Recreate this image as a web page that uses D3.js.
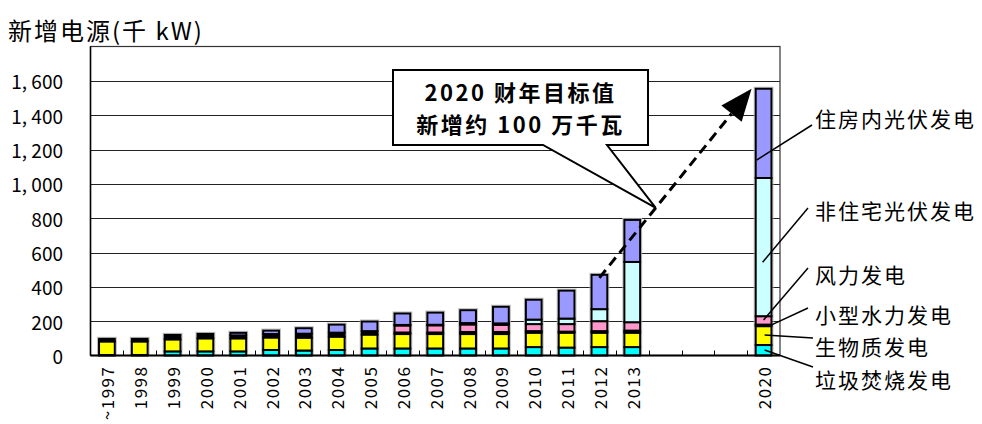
<!DOCTYPE html>
<html><head><meta charset="utf-8">
<script src="https://cdn.jsdelivr.net/npm/d3@7"></script>
<style>body{margin:0;background:#fff}</style>
</head><body>
<svg id="c" width="982" height="424"></svg>
<script>
const categories = ["~1997","1998","1999","2000","2001","2002","2003","2004","2005","2006","2007","2008","2009","2010","2011","2012","2013","","","","2020"];
const seriesNames = ["垃圾焚烧发电","生物质发电","小型水力发电","风力发电","非住宅光伏发电","住房内光伏发电"];
const seriesColors = ["#00FFFF","#FFFF00","#000000","#FF99CC","#CCFFFF","#9999FF"];
const garbage     = [3, 3, 24, 24, 24, 32, 29, 32, 41, 41, 41, 41, 41, 49, 46, 49, 49, null, null, null, 61];
const biomass     = [79, 79, 70, 76, 76, 73, 75, 78, 81, 84, 84, 84, 84, 84, 87, 84, 84, null, null, null, 110];
const smallHydro  = [15, 15, 26, 26, 17, 20, 23, 23, 20, 9, 9, 12, 12, 9, 6, 9, 12, null, null, null, 9];
const wind        = [0, 0, 0, 0, 0, 0, 0, 0, 0, 41, 42, 44, 42, 41, 44, 58, 49, null, null, null, 49];
const nonResPV    = [0, 0, 0, 0, 0, 0, 0, 0, 0, 3, 3, 8, 8, 26, 32, 70, 351, null, null, null, 805];
const resPV       = [0, 0, 0, 0, 15, 20, 32, 47, 56, 67, 71, 75, 97, 116, 163, 200, 245, null, null, null, 520];
const yTicks = [0, 200, 400, 600, 800, 1000, 1200, 1400, 1600];
const yTickLabels = ["0","200","400","600","800","1, 000","1, 200","1, 400","1, 600"];
const yMax = 1800;
const titleText = "新增电源(千 kW)";
const calloutLines = ["2020 财年目标值", "新增约 100 万千瓦"];

const series = [garbage, biomass, smallHydro, wind, nonResPV, resPV];
const svg = d3.select("#c");
const L = 90.5, R = 780, T = 46.5, B = 355.5;
const CJK = "'Noto Sans CJK SC','Noto Sans',sans-serif";

const x = d3.scaleBand().domain(d3.range(categories.length)).range([L, R]).paddingInner(0).paddingOuter(0);
const y = d3.scaleLinear().domain([0, yMax]).range([B, T]);
const bw = x.bandwidth() * 0.48;

// title
svg.append("text").attr("x", 8).attr("y", 40).attr("font-family", CJK).attr("font-size", 24)
  .attr("letter-spacing", "2px").attr("fill", "#000").text(titleText);

// gridlines
svg.append("g").selectAll("line").data(yTicks.filter(d => d > 0)).join("line")
  .attr("x1", L).attr("x2", R).attr("y1", d => Math.round(y(d)) + 0.5).attr("y2", d => Math.round(y(d)) + 0.5)
  .attr("stroke", "#222").attr("stroke-width", 1);

// plot border
svg.append("rect").attr("x", L).attr("y", T).attr("width", R - L).attr("height", B - T)
  .attr("fill", "none").attr("stroke", "#333").attr("stroke-width", 1.2);

// y labels
svg.append("g").selectAll("text").data(yTicks).join("text")
  .attr("x", 63).attr("y", d => y(d)).attr("text-anchor", "end").attr("dominant-baseline", "central")
  .attr("font-family", CJK).attr("font-size", 19).attr("fill", "#000")
  .text((d, i) => yTickLabels[i]);

// stacked data
const rows = categories.map((c, i) => {
  const o = {i: i};
  series.forEach((s, k) => o["s" + k] = s[i]);
  return o;
}).filter(r => r.s0 !== null);
const keys = series.map((s, k) => "s" + k);
const stacked = d3.stack().keys(keys)(rows);

// subtle bar shadow
svg.append("g").selectAll("rect").data(rows).join("rect")
  .attr("x", d => x(d.i) + (x.bandwidth() - bw) / 2 - 1.5)
  .attr("y", d => y(d3.sum(keys, k => d[k])) - 1.5)
  .attr("width", bw + 3)
  .attr("height", d => B - y(d3.sum(keys, k => d[k])) + 1.5)
  .attr("fill", "none").attr("stroke", "#bbb").attr("stroke-width", 1);

const gb = svg.append("g");
stacked.forEach((layer, k) => {
  gb.append("g").selectAll("rect").data(layer).join("rect")
    .attr("x", d => x(d.data.i) + (x.bandwidth() - bw) / 2)
    .attr("y", d => y(d[1]))
    .attr("width", bw)
    .attr("height", d => y(d[0]) - y(d[1]))
    .attr("fill", seriesColors[k])
    .attr("stroke", "#000").attr("stroke-width", 2);
});

// x axis line and ticks
svg.append("line").attr("x1", L).attr("x2", R).attr("y1", B).attr("y2", B).attr("stroke", "#000").attr("stroke-width", 2);
svg.append("line").attr("x1", L).attr("x2", L).attr("y1", T).attr("y2", B).attr("stroke", "#000").attr("stroke-width", 1.5);
svg.append("g").selectAll("line").data(d3.range(1, categories.length)).join("line")
  .attr("x1", i => Math.round(x(i)) + 0.5).attr("x2", i => Math.round(x(i)) + 0.5)
  .attr("y1", B).attr("y2", B - 5).attr("stroke", "#000").attr("stroke-width", 1);

// x labels
svg.append("g").selectAll("text").data(categories.map((c, i) => ({c, i})).filter(d => d.c !== "")).join("text")
  .attr("transform", d => `translate(${x(d.i) + x.bandwidth() / 2},${B + 10}) rotate(-90)`)
  .attr("text-anchor", "end").attr("dominant-baseline", "central")
  .attr("font-family", CJK).attr("font-size", 17).attr("letter-spacing", "1.5px").attr("fill", "#000")
  .text(d => d.c);

// dashed arrow from 2012 top to 2020 top
const total = i => d3.sum(series, s => s[i]);
const i12 = categories.indexOf("2012"), i20 = categories.indexOf("2020");
const S = [x(i12) + x.bandwidth() / 2, y(total(i12)) + 3];
const E = [x(i20) + x.bandwidth() / 2 - 12, y(total(i20))];
const dx = E[0] - S[0], dy = E[1] - S[1], len = Math.hypot(dx, dy);
const ux = dx / len, uy = dy / len;
const headL = 32, headW = 13;
const Bc = [E[0] - headL * ux, E[1] - headL * uy];

// callout
const tt = 0.37;
const tip = [S[0] + dx * tt, S[1] + dy * tt];
const bx0 = 393, bx1 = 648, by0 = 70, by1 = 145;
svg.append("path")
  .attr("d", `M${bx0},${by0}H${bx1}V${by1}H607L${tip[0]},${tip[1]}L543,${by1}H${bx0}Z`)
  .attr("fill", "#fff").attr("stroke", "#000").attr("stroke-width", 2).attr("stroke-linejoin", "miter");
svg.append("g").selectAll("text").data(calloutLines).join("text")
  .attr("x", (bx0 + bx1) / 2).attr("y", (d, i) => 91 + i * 32)
  .attr("text-anchor", "middle").attr("dominant-baseline", "central")
  .attr("font-family", CJK).attr("font-size", 22).attr("font-weight", "bold").attr("letter-spacing", "2.5px")
  .attr("fill", "#000").text(d => d);

svg.append("line").attr("x1", S[0]).attr("y1", S[1]).attr("x2", Bc[0]).attr("y2", Bc[1])
  .attr("stroke", "#000").attr("stroke-width", 3).attr("stroke-dasharray", "10,6");
svg.append("path")
  .attr("d", `M${E[0]},${E[1]}L${Bc[0] - headW * uy},${Bc[1] + headW * ux}L${Bc[0] + headW * uy},${Bc[1] - headW * ux}Z`)
  .attr("fill", "#000");

// legend with leader lines (anchored in 2020 bar segments)
const legendLayout = [
  {k: 5, f: 0.2,  dx: -7, tx: 812, ty: 125, ly: 118},
  {k: 4, f: 0.39, dx: -1, tx: 808, ty: 208, ly: 210},
  {k: 3, f: 0.55, dx: 0,  tx: 808, ty: 268, ly: 274},
  {k: 2, f: 0.8,  dx: 8,  tx: 808, ty: 308, ly: 314},
  {k: 1, f: 0.53, dx: 1,  tx: 813, ty: 338, ly: 346},
  {k: 0, f: 0.52, dx: 1,  tx: 813, ty: 367, ly: 379}
];
const st20 = stacked.map(layer => layer.find(d => d.data.i === i20));
const cx20 = x(i20) + x.bandwidth() / 2;
legendLayout.forEach(l => {
  const seg = st20[l.k];
  const yy = y(seg[0] + (seg[1] - seg[0]) * l.f);
  svg.append("line").attr("x1", cx20 + l.dx).attr("y1", yy).attr("x2", l.tx).attr("y2", l.ty)
    .attr("stroke", "#000").attr("stroke-width", 1.5);
  svg.append("text").attr("x", 815).attr("y", l.ly).attr("dominant-baseline", "central")
    .attr("font-family", CJK).attr("font-size", 21).attr("letter-spacing", "2px").attr("fill", "#000")
    .text(seriesNames[l.k]);
});
</script>
</body></html>
